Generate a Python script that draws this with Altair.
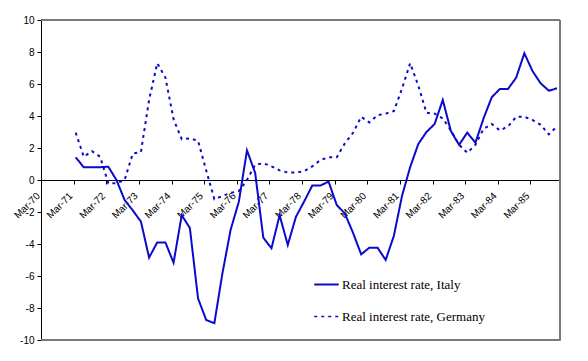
import altair as alt
import pandas as pd

# Tick labels (one per year, March)
tick_labels = ["Mar-70", "Mar-71", "Mar-72", "Mar-73", "Mar-74", "Mar-75", "Mar-76", "Mar-77",
               "Mar-78", "Mar-79", "Mar-80", "Mar-81", "Mar-82", "Mar-83", "Mar-84", "Mar-85"]

series_names = ["Real interest rate, Italy", "Real interest rate, Germany"]

# Quarterly observations Mar-71 .. Dec-85 (quarter index counted from Mar-70 = 0)
quarters = list(range(4, 64))

italy = [1.42, 0.79, 0.79, 0.8, 0.83, 0.0, -1.25, -1.9, -2.6, -4.85,
         -3.9, -3.9, -5.17, -2.2, -3.0, -7.4, -8.75, -8.95, -5.8, -3.1,
         -1.36, 1.85, 0.45, -3.6, -4.27, -2.2, -4.06, -2.3, -1.35, -0.35,
         -0.35, -0.1, -1.56, -2.1, -3.3, -4.65, -4.23, -4.23, -5.0, -3.5,
         -1.0, 0.8, 2.25, 3.0, 3.5, 5.0, 3.05, 2.2, 2.96, 2.33,
         3.85, 5.17, 5.69, 5.69, 6.4, 7.92, 6.81, 6.04, 5.58, 5.73]

germany = [2.96, 1.45, 1.8, 1.45, -0.2, -0.2, 0.0, 1.65, 1.75, 5.0,
           7.3, 6.4, 3.8, 2.55, 2.6, 2.45, 0.6, -1.2, -1.0, -0.8,
           -0.7, 0.0, 0.95, 1.05, 0.85, 0.6, 0.47, 0.47, 0.55, 0.85,
           1.25, 1.42, 1.42, 2.3, 2.95, 3.95, 3.6, 4.05, 4.15, 4.3,
           5.7, 7.3, 5.9, 4.2, 4.15, 3.85, 3.1, 2.2, 1.7, 2.2,
           3.2, 3.5, 3.1, 3.35, 3.95, 3.95, 3.75, 3.45, 2.85, 3.35]

x_domain = [-0.25, 63.37]
y_domain = [-10, 10]
plot_w, plot_h = 519, 320

rows = []
for name, vals in zip(series_names, [italy, germany]):
    for qi, v in zip(quarters, vals):
        rows.append({"q": qi, "value": v, "series": name})
df = pd.DataFrame(rows)

label_js = "[" + ",".join("'" + t + "'" for t in tick_labels) + "]"
tick_vals = [4 * i - 0.25 for i in range(len(tick_labels))]

blue = "#0a0acc"
border_gray = "#7a7a7a"

x_scale = alt.Scale(domain=x_domain, nice=False, zero=False)
y_scale = alt.Scale(domain=y_domain, nice=False)

x_axis = alt.Axis(values=tick_vals,
                  labelExpr=label_js + "[round((datum.value + 0.25) / 4)]",
                  labelAngle=315, labelAlign="right", labelBaseline="middle",
                  offset=-160, grid=False, title=None, tickSize=4, labelPadding=10,
                  labelOffset=-3,
                  domainColor="black", tickColor="black", labelColor="black",
                  labelFont="Liberation Sans", labelFontSize=10, labelOverlap=False)

y_axis = alt.Axis(values=list(range(-10, 11, 2)), labelExpr="'' + datum.value",
                  grid=False, title=None, tickSize=4, labelPadding=3,
                  domainColor="black", tickColor="black", labelColor="black",
                  labelFont="Liberation Sans", labelFontSize=10, labelOverlap=False)

legend = alt.Legend(title=None, orient="none", legendX=272, legendY=251,
                    symbolType="stroke", symbolSize=600, symbolStrokeWidth=2,
                    labelFont="Liberation Serif", labelFontSize=13, labelColor="black",
                    rowPadding=11, labelOffset=2, padding=0)

lines = alt.Chart(df).mark_line(strokeWidth=2).encode(
    x=alt.X("q:Q", scale=x_scale, axis=x_axis),
    y=alt.Y("value:Q", scale=y_scale, axis=y_axis),
    color=alt.Color("series:N", scale=alt.Scale(domain=series_names, range=[blue, blue]), legend=legend),
    strokeDash=alt.StrokeDash("series:N", scale=alt.Scale(domain=series_names, range=[[1, 0], [3, 4]]), legend=legend),
    strokeWidth=alt.StrokeWidth("series:N", scale=alt.Scale(domain=series_names, range=[2, 1.6]), legend=None),
)

# gray plot-area frame (top, right, bottom edges), drawn as rules
frame_top = alt.Chart().mark_rule(color=border_gray, strokeWidth=1.5, opacity=1).encode(
    x=alt.value(0), x2=alt.value(plot_w), y=alt.value(0))
frame_bottom = alt.Chart().mark_rule(color=border_gray, strokeWidth=1.5, opacity=1).encode(
    x=alt.value(0), x2=alt.value(plot_w), y=alt.value(plot_h))
frame_right = alt.Chart().mark_rule(color=border_gray, strokeWidth=1.5, opacity=1).encode(
    x=alt.value(plot_w), y=alt.value(0), y2=alt.value(plot_h))

chart = alt.layer(frame_top, frame_bottom, frame_right, lines, data=df).properties(
    width=plot_w, height=plot_h,
    autosize=alt.AutoSizeParams(type="none"),
    padding={"left": 33, "top": 12, "right": 10, "bottom": 20},
).configure_view(
    stroke=border_gray, strokeWidth=1
)

chart.save("out.html", embed_options={"renderer": "svg", "actions": False})
